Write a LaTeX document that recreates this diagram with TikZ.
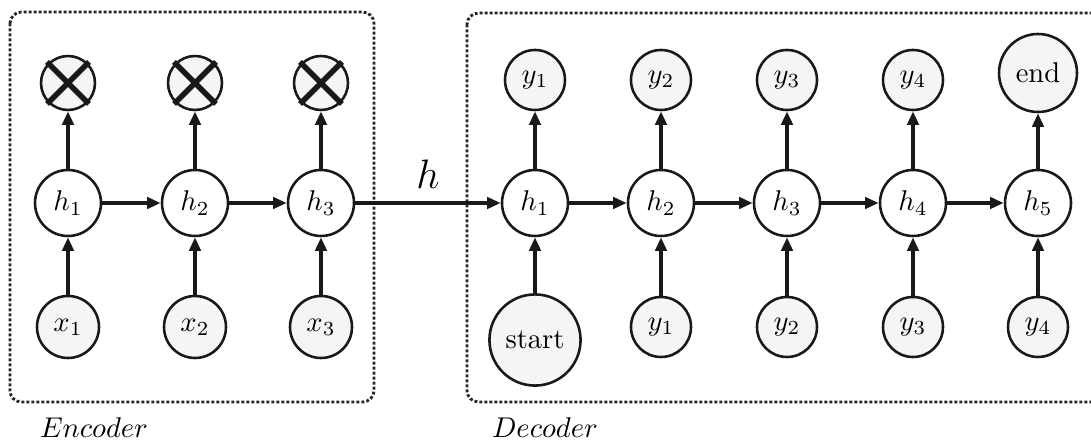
\documentclass[tikz,border=0pt]{standalone}
\usetikzlibrary{arrows.meta}
\begin{document}
\begin{tikzpicture}[x=0.35pt,y=-0.35pt,
  hid/.style={circle, draw=black!90, line width=0.9pt, fill=white, minimum size=23.1pt, inner sep=0pt},
  obs/.style={hid, fill=gray!8, minimum size=21pt},
  inp/.style={hid, fill=gray!8, minimum size=21.7pt},
  crs/.style={hid, fill=gray!8, minimum size=18.9pt},
  bigobs/.style={hid, fill=gray!8, minimum size=#1},
  conn/.style={draw=black!90, line width=1.3pt, -{Triangle[length=4.8pt,width=4pt]}},
  xline/.style={draw=black!90, line width=1.9pt},
  frame/.style={draw=black!85, line width=1pt, dash pattern=on 1pt off 0.75pt, rounded corners=4pt},
]
\useasboundingbox (0,0) rectangle (1091,443);
% frames
\draw[frame] (10,12) rectangle (374,402);
\draw[frame] (467,13) rectangle (1104,402);
\node (enc) at (94,428) {$Encoder$};
\node (dec) at (545,428) {$Decoder$};
% encoder
\foreach \i/\x in {1/68,2/195,3/321}{
  \node[hid] (eh\i) at (\x,203) {$h_\i$};
  \node[inp] (ex\i) at (\x,327) {$x_\i$};
  \node[crs] (eo\i) at (\x,83) {};
  \draw[xline] ([shift={(-21,-21)}]eo\i.center) -- ([shift={(21,21)}]eo\i.center);
  \draw[xline] ([shift={(-21,21)}]eo\i.center) -- ([shift={(21,-21)}]eo\i.center);
  \draw[conn] (ex\i) -- (eh\i);
  \draw[conn] (eh\i) -- (eo\i);
}
\draw[conn] (eh1) -- (eh2);
\draw[conn] (eh2) -- (eh3);
% decoder
\foreach \i/\x in {1/535,2/661,3/787,4/913,5/1038}{
  \node[hid] (dh\i) at (\x,203) {$h_\i$};
}
\foreach \i/\x in {1/535,2/661,3/787,4/913}{
  \node[obs] (do\i) at (\x,80) {$y_\i$};
  \draw[conn] (dh\i) -- (do\i);
}
\node[bigobs=27.3pt] (do5) at (1038,73) {end};
\draw[conn] (dh5) -- (do5);
\node[bigobs=31.9pt] (start) at (535,340) {start};
\draw[conn] (start) -- (dh1);
\foreach \i/\x/\j in {1/661/2,2/787/3,3/913/4,4/1038/5}{
  \node[obs] (di\i) at (\x,327) {$y_\i$};
  \draw[conn] (di\i) -- (dh\j);
}
\foreach \i/\j in {1/2,2/3,3/4,4/5}{
  \draw[conn] (dh\i) -- (dh\j);
}
\draw[conn] (eh3) -- node[above=1pt, font=\fontsize{13.7}{16}\selectfont] (hlab) {$h$} (dh1);
\end{tikzpicture}
\end{document}
